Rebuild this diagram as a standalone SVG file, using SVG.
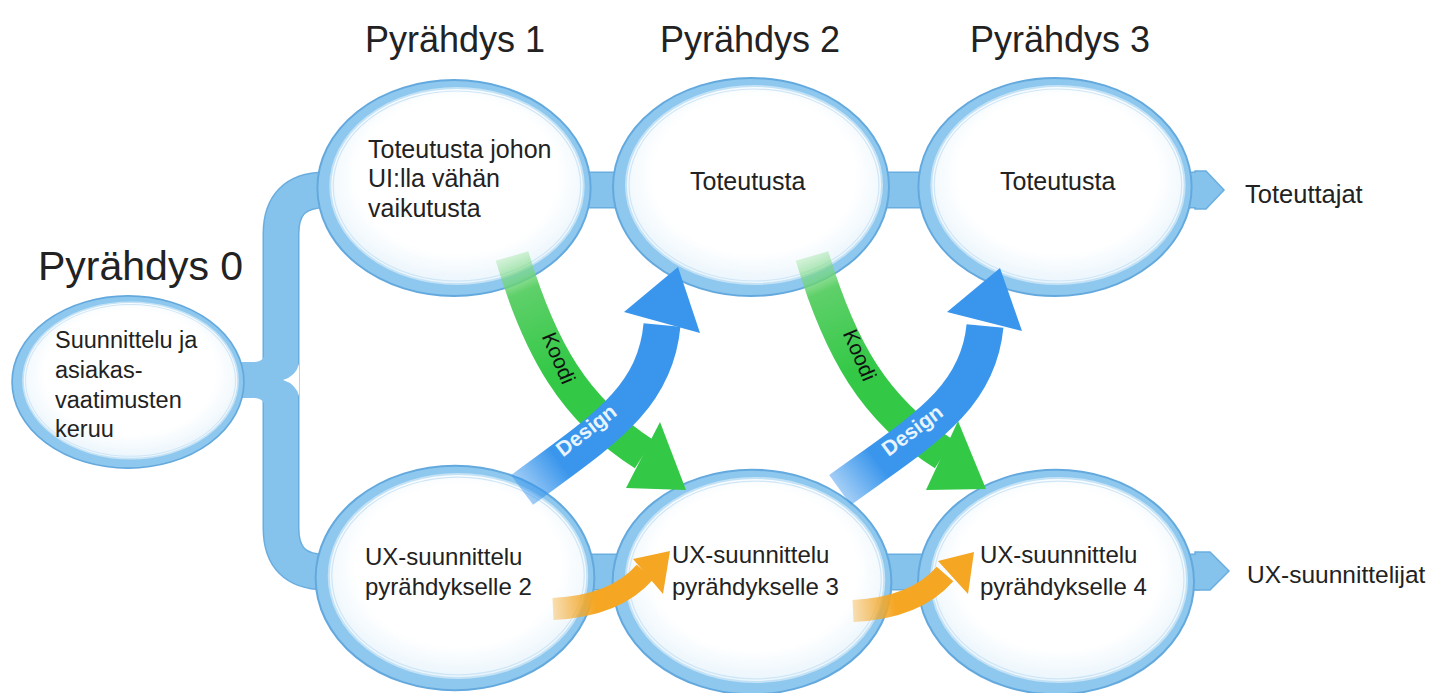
<svg xmlns="http://www.w3.org/2000/svg" width="1433" height="693" viewBox="0 0 1433 693">
<style>
.t{font-family:"Liberation Sans",Arial,sans-serif;fill:#222}
.h{font-size:36px}
.n{font-size:25px}
.bar{fill:none;stroke-linejoin:round}
.bo{stroke:#6aaee0;stroke-width:37}
.bi{stroke:#86c3ec;stroke-width:34}
.lbl{font-family:"Liberation Sans",Arial,sans-serif;font-size:21px}
</style>
<defs>
<radialGradient id="glass" cx="0.5" cy="0.45" r="0.55">
<stop offset="0.72" stop-color="#ffffff"/>
<stop offset="1" stop-color="#eaf5fc"/>
</radialGradient>
<g id="ring">
<ellipse cx="0" cy="0" rx="138" ry="109" fill="#8ec8ee" stroke="#64a9de" stroke-width="2"/>
<ellipse cx="3" cy="-2" rx="128" ry="99" fill="url(#glass)" stroke="#c4e2f6" stroke-width="2"/>
<ellipse cx="3" cy="-2" rx="125" ry="96" fill="none" stroke="#cfe6f7" stroke-width="1.2"/>
</g>
<linearGradient id="gG1" gradientUnits="userSpaceOnUse" x1="512" y1="256" x2="560" y2="370">
<stop offset="0" stop-color="#8fe08f" stop-opacity="0.35"/>
<stop offset="0.3" stop-color="#5fd06a"/>
<stop offset="1" stop-color="#33c846"/>
</linearGradient>
<linearGradient id="gG2" gradientUnits="userSpaceOnUse" x1="812" y1="256" x2="860" y2="370">
<stop offset="0" stop-color="#8fe08f" stop-opacity="0.35"/>
<stop offset="0.3" stop-color="#5fd06a"/>
<stop offset="1" stop-color="#33c846"/>
</linearGradient>
<linearGradient id="gB1" gradientUnits="userSpaceOnUse" x1="518" y1="494" x2="560" y2="462">
<stop offset="0" stop-color="#3a96ec" stop-opacity="0.4"/>
<stop offset="1" stop-color="#3a96ec"/>
</linearGradient>
<linearGradient id="gB2" gradientUnits="userSpaceOnUse" x1="836" y1="494" x2="878" y2="462">
<stop offset="0" stop-color="#3a96ec" stop-opacity="0.4"/>
<stop offset="1" stop-color="#3a96ec"/>
</linearGradient>
<linearGradient id="gO1" gradientUnits="userSpaceOnUse" x1="553" y1="609" x2="595" y2="604">
<stop offset="0" stop-color="#f5a623" stop-opacity="0.35"/>
<stop offset="1" stop-color="#f5a623"/>
</linearGradient>
<linearGradient id="gO2" gradientUnits="userSpaceOnUse" x1="853" y1="611" x2="895" y2="606">
<stop offset="0" stop-color="#f5a623" stop-opacity="0.35"/>
<stop offset="1" stop-color="#f5a623"/>
</linearGradient>
</defs>
<rect width="1433" height="693" fill="#ffffff"/>

<g id="connectors-bars">
<path class="bar bo" d="M1200 190 H325 Q281 190 281 234 V528 Q281 572 325 572 H1200"/>
<path d="M1195 171 H1206 L1224 190 L1206 209 H1195 Z" fill="#86c3ec" stroke="#6aaee0" stroke-width="1.5"/>
<path d="M1195 552 H1210 L1229 571 L1210 590 H1195 Z" fill="#86c3ec" stroke="#6aaee0" stroke-width="1.5"/>
<path class="bar bi" d="M1200 190 H325 Q281 190 281 234 V528 Q281 572 325 572 H1200"/>
<path d="M236 362 H254 Q265 362 266 350 L266 410 Q265 398 254 398 H236 Z" fill="#86c3ec"/>
<path d="M299 364 Q296 376 283 380 Q296 384 299 396 Z" fill="#ffffff"/>
</g>

<g id="node0">
<use href="#ring" transform="translate(128 382) scale(0.84 0.79)"/>
<text class="t" font-size="23.5" x="55" y="348">Suunnittelu ja</text>
<text class="t" font-size="23.5" x="55" y="378">asiakas-</text>
<text class="t" font-size="23.5" x="55" y="408">vaatimusten</text>
<text class="t" font-size="23.5" x="55" y="437">keruu</text>
</g>
<g id="node1">
<use href="#ring" transform="translate(454 188) scale(0.99 0.99)"/>
<text class="t n" x="368" y="158">Toteutusta johon</text>
<text class="t n" x="368" y="187">UI:lla vähän</text>
<text class="t n" x="368" y="217">vaikutusta</text>
</g>
<g id="node2">
<use href="#ring" transform="translate(751 187)"/>
<text class="t n" x="690" y="190">Toteutusta</text>
</g>
<g id="node3">
<use href="#ring" transform="translate(1055 187) scale(0.99 1)"/>
<text class="t n" x="1000" y="190">Toteutusta</text>
</g>
<g id="node4">
<use href="#ring" transform="translate(455 578) scale(1.01 1.03)"/>
<text class="t" font-size="24" x="365" y="565">UX-suunnittelu</text>
<text class="t" font-size="24" x="365" y="595">pyrähdykselle 2</text>
</g>
<g id="node5">
<use href="#ring" transform="translate(752 582) scale(1.01 1.03)"/>
<text class="t" font-size="24" x="672" y="563">UX-suunnittelu</text>
<text class="t" font-size="24" x="672" y="595">pyrähdykselle 3</text>
</g>
<g id="node6">
<use href="#ring" transform="translate(1056 582) scale(1.0 1.03)"/>
<text class="t" font-size="24" x="980" y="563">UX-suunnittelu</text>
<text class="t" font-size="24" x="980" y="595">pyrähdykselle 4</text>
</g>

<g id="headers">
<text class="t" font-size="41" x="38" y="280">Pyrähdys 0</text>
<text class="t h" x="365" y="52">Pyrähdys 1</text>
<text class="t h" x="660" y="52">Pyrähdys 2</text>
<text class="t h" x="970" y="52">Pyrähdys 3</text>
<text class="t" font-size="25.5" x="1245" y="203">Toteuttajat</text>
<text class="t" font-size="24.5" x="1247" y="583">UX-suunnittelijat</text>
</g>

<g id="connectors-arrows">
<path d="M512 256 C540 350 575 410 644 454" fill="none" stroke="url(#gG1)" stroke-width="34"/>
<polygon points="660,422 626,488 686,490" fill="#33c846"/>
<text class="lbl" fill="#111" x="559" y="358" text-anchor="middle" dominant-baseline="central" transform="rotate(67 559 358)">Koodi</text>
<path d="M522 490 C600 432 655 400 662 325" fill="none" stroke="url(#gB1)" stroke-width="37"/>
<polygon points="624,312 700,333 678,267" fill="#3a96ec"/>
<text class="lbl" font-weight="bold" fill="#e8f4ff" x="586" y="430" text-anchor="middle" dominant-baseline="central" transform="rotate(-38 586 430)">Design</text>

<path d="M812 256 C840 350 875 410 944 454" fill="none" stroke="url(#gG2)" stroke-width="34"/>
<polygon points="958,421 926,490 986,489" fill="#33c846"/>
<text class="lbl" fill="#111" x="860" y="355" text-anchor="middle" dominant-baseline="central" transform="rotate(67 860 355)">Koodi</text>
<path d="M840 490 C920 432 978 400 985 326" fill="none" stroke="url(#gB2)" stroke-width="37"/>
<polygon points="947,312 1022,331 1000,268" fill="#3a96ec"/>
<text class="lbl" font-weight="bold" fill="#e8f4ff" x="912" y="430" text-anchor="middle" dominant-baseline="central" transform="rotate(-37 912 430)">Design</text>

<path d="M553 609 C595 607 625 595 645 572" fill="none" stroke="url(#gO1)" stroke-width="22"/>
<polygon points="633,559 670,551 663,594" fill="#f5a623"/>
<path d="M853 611 C895 609 925 597 945 574" fill="none" stroke="url(#gO2)" stroke-width="22"/>
<polygon points="938,561 974,552 968,594" fill="#f5a623"/>
</g>
</svg>
